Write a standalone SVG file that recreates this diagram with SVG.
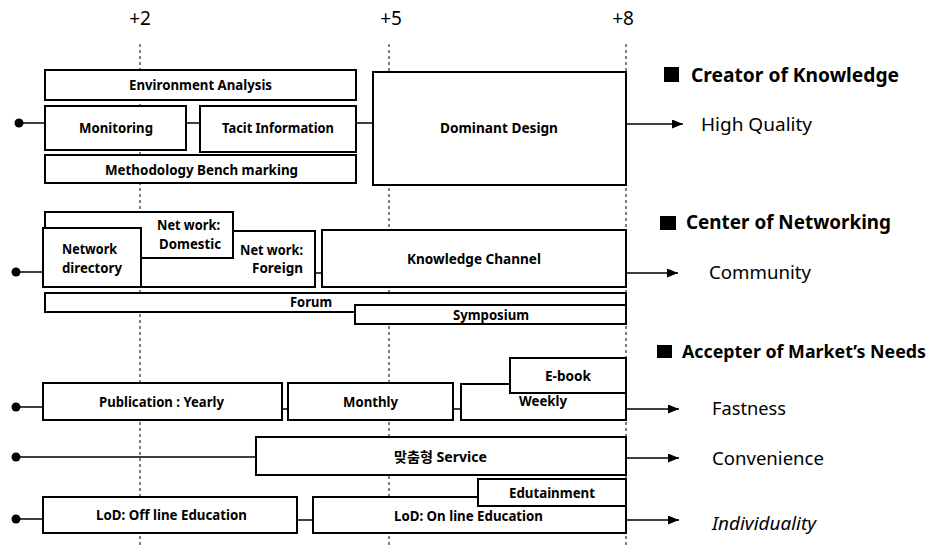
<svg xmlns="http://www.w3.org/2000/svg" width="939" height="547" viewBox="0 0 939 547">
  <style>
    .grid { stroke: #000; stroke-width: 1; stroke-dasharray: 3 3; fill: none; }
    .box { fill: #fff; stroke: #000; stroke-width: 2; }
    .lbl { font-family: "Noto Sans", "Noto Sans CJK KR", sans-serif; font-weight: bold; font-size: 14px; fill: #000; text-anchor: middle; }
    .lblr { text-anchor: end; }
    .conn { stroke: #000; stroke-width: 1.5; fill: none; }
    .arrow { stroke: #000; stroke-width: 1.5; fill: none; marker-end: url(#head); }
    .dot { fill: #000; }
    .axis { font-family: "Noto Sans", sans-serif; font-size: 19px; fill: #000; text-anchor: middle; }
    .head { font-family: "Noto Sans", sans-serif; font-weight: bold; font-size: 19px; fill: #000; }
    .head-sm { font-size: 17px; }
    .out { font-family: "Noto Sans", sans-serif; font-size: 18px; fill: #000; }
  </style>
  <defs>
    <marker id="head" markerUnits="userSpaceOnUse" markerWidth="11" markerHeight="9" refX="11" refY="4.5" orient="auto">
      <path d="M0,0 L11,4.5 L0,9 z" fill="#000"/>
    </marker>
  </defs>

  <rect width="939" height="547" fill="#fff"/>

  <!-- time axis -->
  <g id="axis">
    <text class="axis" x="140" y="25">+2</text>
    <text class="axis" x="391" y="25">+5</text>
    <text class="axis" x="623" y="25">+8</text>
    <line class="grid" x1="140" y1="44" x2="140" y2="547"/>
    <line class="grid" x1="389" y1="44" x2="389" y2="547"/>
    <line class="grid" x1="626" y1="44" x2="626" y2="547"/>
  </g>

  <!-- connectors -->
  <g id="connectors">
    <circle class="dot" cx="19" cy="123" r="4.5"/>
    <line class="conn" x1="19" y1="123" x2="45" y2="123"/>
    <line class="conn" x1="186" y1="123" x2="200" y2="123"/>
    <line class="conn" x1="356" y1="123" x2="373" y2="123"/>
    <line class="arrow" x1="626" y1="124" x2="683" y2="124"/>

    <circle class="dot" cx="16" cy="272" r="4.5"/>
    <line class="conn" x1="16" y1="272" x2="43" y2="272"/>
    <line class="conn" x1="315" y1="273" x2="322" y2="273"/>
    <line class="arrow" x1="626" y1="273" x2="678" y2="273"/>

    <circle class="dot" cx="16" cy="407" r="4.5"/>
    <line class="conn" x1="16" y1="407" x2="43" y2="407"/>
    <line class="conn" x1="282" y1="409" x2="288" y2="409"/>
    <line class="conn" x1="453" y1="409" x2="461" y2="409"/>
    <line class="arrow" x1="626" y1="409" x2="679" y2="409"/>

    <circle class="dot" cx="16" cy="457" r="4.5"/>
    <line class="conn" x1="16" y1="457" x2="256" y2="457"/>
    <line class="arrow" x1="626" y1="458" x2="679" y2="458"/>

    <circle class="dot" cx="16" cy="519" r="4.5"/>
    <line class="conn" x1="16" y1="519" x2="43" y2="519"/>
    <line class="conn" x1="297" y1="520" x2="313" y2="520"/>
    <line class="arrow" x1="626" y1="520" x2="679" y2="520"/>
  </g>

  <!-- Creator of Knowledge -->
  <g id="env-analysis">
    <rect class="box" x="45" y="70" width="311" height="30"/>
    <text class="lbl" x="200.5" y="90" textLength="143" lengthAdjust="spacingAndGlyphs">Environment Analysis</text>
  </g>
  <g id="monitoring">
    <rect class="box" x="45" y="106" width="141" height="44"/>
    <text class="lbl" x="116" y="133" textLength="74" lengthAdjust="spacingAndGlyphs">Monitoring</text>
  </g>
  <g id="tacit-information">
    <rect class="box" x="200" y="106" width="156" height="46"/>
    <text class="lbl" x="278" y="133" textLength="112" lengthAdjust="spacingAndGlyphs">Tacit Information</text>
  </g>
  <g id="methodology">
    <rect class="box" x="45" y="155" width="311" height="28"/>
    <text class="lbl" x="201.5" y="175" textLength="193" lengthAdjust="spacingAndGlyphs">Methodology  Bench marking</text>
  </g>
  <g id="dominant-design">
    <rect class="box" x="373" y="72" width="253" height="113"/>
    <text class="lbl" x="499" y="133" textLength="118" lengthAdjust="spacingAndGlyphs">Dominant Design</text>
  </g>

  <!-- Center of Networking -->
  <g id="network-foreign">
    <rect class="box" x="43" y="231" width="272" height="56"/>
    <text class="lbl lblr" x="303" y="255" textLength="63" lengthAdjust="spacingAndGlyphs">Net work:</text>
    <text class="lbl lblr" x="303" y="273" textLength="51" lengthAdjust="spacingAndGlyphs">Foreign</text>
  </g>
  <g id="network-domestic">
    <rect class="box" x="45" y="212" width="188" height="46"/>
    <text class="lbl" x="188.5" y="230" textLength="63" lengthAdjust="spacingAndGlyphs">Net work:</text>
    <text class="lbl" x="190" y="249" textLength="62" lengthAdjust="spacingAndGlyphs">Domestic</text>
  </g>
  <g id="network-directory">
    <rect class="box" x="43" y="228" width="98" height="59"/>
    <text class="lbl" x="89.5" y="254" textLength="55" lengthAdjust="spacingAndGlyphs">Network</text>
    <text class="lbl" x="92" y="273" textLength="60" lengthAdjust="spacingAndGlyphs">directory</text>
  </g>
  <g id="knowledge-channel">
    <rect class="box" x="322" y="230" width="304" height="57"/>
    <text class="lbl" x="474" y="264" textLength="134" lengthAdjust="spacingAndGlyphs">Knowledge Channel</text>
  </g>
  <g id="forum">
    <rect class="box" x="45" y="293" width="581" height="19"/>
    <text class="lbl" x="311" y="307" textLength="42" lengthAdjust="spacingAndGlyphs">Forum</text>
  </g>
  <g id="symposium">
    <rect class="box" x="355" y="305" width="271" height="19"/>
    <text class="lbl" x="491" y="320" textLength="76" lengthAdjust="spacingAndGlyphs">Symposium</text>
  </g>

  <!-- Accepter of Market's Needs -->
  <g id="pub-yearly">
    <rect class="box" x="43" y="383" width="239" height="37"/>
    <text class="lbl" x="161.5" y="407" textLength="125" lengthAdjust="spacingAndGlyphs">Publication : Yearly</text>
  </g>
  <g id="pub-monthly">
    <rect class="box" x="288" y="383" width="165" height="37"/>
    <text class="lbl" x="370.5" y="407" textLength="55" lengthAdjust="spacingAndGlyphs">Monthly</text>
  </g>
  <g id="pub-weekly">
    <rect class="box" x="461" y="384" width="165" height="36"/>
    <text class="lbl" x="543" y="406" textLength="48" lengthAdjust="spacingAndGlyphs">Weekly</text>
  </g>
  <g id="e-book">
    <rect class="box" x="510" y="358" width="116" height="35"/>
    <text class="lbl" x="568" y="381" textLength="46" lengthAdjust="spacingAndGlyphs">E-book</text>
  </g>
  <g id="custom-service">
    <rect class="box" x="256" y="437" width="370" height="38"/>
    <text class="lbl" x="440.5" y="462" textLength="93" lengthAdjust="spacingAndGlyphs">맞춤형 Service</text>
  </g>
  <g id="lod-offline">
    <rect class="box" x="43" y="497" width="254" height="36"/>
    <text class="lbl" x="171.5" y="520" textLength="151" lengthAdjust="spacingAndGlyphs">LoD: Off line Education</text>
  </g>
  <g id="lod-online">
    <rect class="box" x="313" y="497" width="313" height="36"/>
    <text class="lbl" x="468.5" y="521" textLength="149" lengthAdjust="spacingAndGlyphs">LoD: On line Education</text>
  </g>
  <g id="edutainment">
    <rect class="box" x="478" y="479" width="148" height="27"/>
    <text class="lbl" x="552" y="498" textLength="86" lengthAdjust="spacingAndGlyphs">Edutainment</text>
  </g>

  <!-- role headings and outcomes -->
  <g id="creator-heading">
    <rect x="664" y="67" width="15" height="15" fill="#000"/>
    <text class="head" x="691" y="82" textLength="208" lengthAdjust="spacingAndGlyphs">Creator of Knowledge</text>
  </g>
  <g id="high-quality">
    <text class="out" x="701" y="131" textLength="111" lengthAdjust="spacingAndGlyphs">High Quality</text>
  </g>
  <g id="networking-heading">
    <rect x="660" y="216" width="16" height="14" fill="#000"/>
    <text class="head" x="686" y="229" textLength="205" lengthAdjust="spacingAndGlyphs">Center of Networking</text>
  </g>
  <g id="community">
    <text class="out" x="709" y="279" textLength="102" lengthAdjust="spacingAndGlyphs">Community</text>
  </g>
  <g id="market-heading">
    <rect x="657" y="345" width="15" height="13" fill="#000"/>
    <text class="head head-sm" x="682" y="358" textLength="244" lengthAdjust="spacingAndGlyphs">Accepter of Market’s Needs</text>
  </g>
  <g id="fastness">
    <text class="out" x="712" y="415" textLength="74" lengthAdjust="spacingAndGlyphs">Fastness</text>
  </g>
  <g id="convenience">
    <text class="out" x="712" y="465" textLength="112" lengthAdjust="spacingAndGlyphs">Convenience</text>
  </g>
  <g id="individuality">
    <text class="out" x="712" y="530" font-style="italic" textLength="104" lengthAdjust="spacingAndGlyphs">Individuality</text>
  </g>
</svg>
